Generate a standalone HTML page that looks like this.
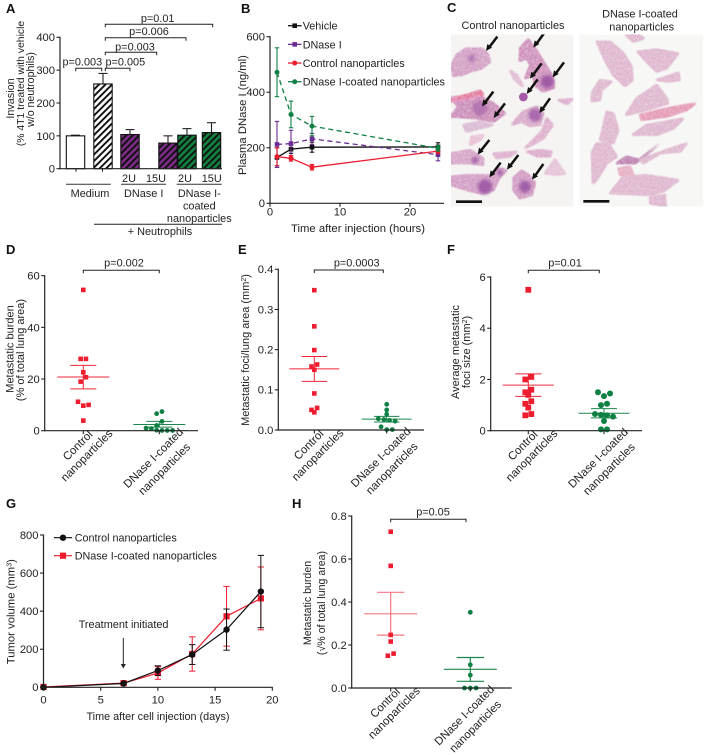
<!DOCTYPE html>
<html lang="en">
<head>
<meta charset="utf-8">
<title>DNase I-coated nanoparticles figure</title>
<style>
html,body{margin:0;padding:0;background:#fff;width:706px;height:755px;overflow:hidden}
svg{display:block;font-family:"Liberation Sans",Arial,sans-serif;fill:#222;filter:blur(.3px)}
text{font-size:10.9px}
.letter{font-size:13px;font-weight:bold;fill:#111}
.ttl{font-size:11px}
.ttl-l{font-size:11.3px}
</style>
</head>
<body>
<svg id="figure" xmlns="http://www.w3.org/2000/svg" width="706" height="755" viewBox="0 0 706 755">
<defs>
<pattern id="hatch-white" patternUnits="userSpaceOnUse" width="4.6" height="4.6" patternTransform="rotate(45)"><rect width="4.6" height="4.6" fill="#fff"/><rect width="1.9" height="4.6" fill="#111"/></pattern>
<pattern id="hatch-purple" patternUnits="userSpaceOnUse" width="4.6" height="4.6" patternTransform="rotate(45)"><rect width="4.6" height="4.6" fill="#7c2a86"/><rect width="1.9" height="4.6" fill="#111"/></pattern>
<pattern id="hatch-green" patternUnits="userSpaceOnUse" width="4.6" height="4.6" patternTransform="rotate(45)"><rect width="4.6" height="4.6" fill="#12803f"/><rect width="1.9" height="4.6" fill="#111"/></pattern>
<filter id="tissue" x="-5%" y="-5%" width="110%" height="110%">
<feMorphology in="SourceGraphic" operator="dilate" radius="3" result="grown"/>
<feTurbulence type="fractalNoise" baseFrequency="0.22" numOctaves="2" seed="4" result="n"/>
<feColorMatrix in="n" type="matrix" values="0 0 0 0 1  0 0 0 0 .95  0 0 0 0 .98  1.3 0 0 0 -.5" result="w"/>
<feComposite in="w" in2="grown" operator="in" result="specks"/>
<feMerge result="m"><feMergeNode in="grown"/><feMergeNode in="specks"/></feMerge>
<feGaussianBlur in="m" stdDeviation="1.2"/>
</filter>
<filter id="soft" x="-30%" y="-30%" width="160%" height="160%"><feGaussianBlur stdDeviation="5"/></filter>
<clipPath id="clip-left"><rect x="-27" y="103" width="367" height="517"/></clipPath>
<clipPath id="clip-right"><rect x="358" y="103" width="372" height="517"/></clipPath>
</defs>

<rect width="706" height="755" fill="#fff"/>

<text class="letter" x="6" y="13">A</text>
<text class="letter" x="241" y="13">B</text>
<text class="letter" x="447" y="12">C</text>
<text class="letter" x="6" y="254">D</text>
<text class="letter" x="238" y="254">E</text>
<text class="letter" x="447" y="254">F</text>
<text class="letter" x="6" y="508">G</text>
<text class="letter" x="292" y="508">H</text>

<!-- Panel A static text -->
<g>
<text style="font-size:10.8px" transform="translate(14,98.5) rotate(-90)" text-anchor="middle">Invasion</text>
<text style="font-size:10.4px" transform="translate(24,83.5) rotate(-90)" text-anchor="middle">(% 4T1 treated with vehicle</text>
<text style="font-size:10.6px" transform="translate(34,89.5) rotate(-90)" text-anchor="middle">w/o neutrophils)</text>
<text x="82.3" y="65.7" text-anchor="middle">p=0.003</text>
<text x="125.3" y="65.7" text-anchor="middle">p=0.005</text>
<text x="135" y="50.7" text-anchor="middle">p=0.003</text>
<text x="149" y="35" text-anchor="middle">p=0.006</text>
<text x="157.7" y="22" text-anchor="middle">p=0.01</text>
<text x="129" y="182" text-anchor="middle">2U</text>
<text x="156" y="182" text-anchor="middle">15U</text>
<text x="185" y="182" text-anchor="middle">2U</text>
<text x="211.7" y="182" text-anchor="middle">15U</text>
<text x="90" y="197" text-anchor="middle">Medium</text>
<text x="143.7" y="197" text-anchor="middle">DNase I</text>
<text x="199.3" y="197" text-anchor="middle">DNase I-</text>
<text x="199.3" y="209.5" text-anchor="middle">coated</text>
<text x="199.3" y="222" text-anchor="middle">nanoparticles</text>
<text x="160" y="235" text-anchor="middle">+ Neutrophils</text>
</g>

<!-- Panel B static text -->
<g>
<text class="ttl-l" transform="translate(246,115) rotate(-90)" text-anchor="middle">Plasma DNase I (ng/ml)</text>
<text class="ttl-l" x="358" y="232" text-anchor="middle">Time after injection (hours)</text>
</g>

<!-- Panel C micrographs -->
<text x="513" y="29" text-anchor="middle">Control nanoparticles</text>
<text x="640" y="17.3" text-anchor="middle">DNase I-coated</text>
<text x="641.7" y="30.7" text-anchor="middle">nanoparticles</text>
<g transform="translate(460,0) scale(0.33333)">
  <g clip-path="url(#clip-left)">
    <rect x="-27" y="103" width="367" height="517" fill="#f5f4f2"/>
    <g filter="url(#tissue)" fill="#cf95c0">
      <polygon points="-10,165 20,145 65,145 85,165 90,185 65,205 30,215 5,225 -20,228 -27,200"/>
      <polygon points="180,145 205,118 228,150 250,185 278,230 283,262 250,275 225,255 218,225 195,235 212,195 200,175 178,183" fill="#cb83b5"/>
      <polygon points="150,212 170,225 190,260 165,240" fill="#dcb6cf"/>
      <polygon points="-27,292 50,285 100,310 135,340 100,365 50,355 -27,350 -5,320" fill="#c77fb3"/>
      <polygon points="-27,295 20,285 60,272 70,285 20,298 -27,305" fill="#e0608e"/>
      <polygon points="155,375 190,335 230,320 250,340 240,375 210,378 185,365" fill="#d6a3c6"/>
      <polygon points="260,355 278,375 250,415 195,445 245,395" fill="#dba9c8"/>
      <polygon points="10,375 60,365 100,375 60,385 20,395" fill="#d7b4d0"/>
      <polygon points="35,410 70,405 60,420 30,435" fill="#e6b9d0"/>
      <polygon points="-27,460 30,450 70,475 70,495 30,490 -27,490" fill="#d39bc4"/>
      <polygon points="100,460 170,455 150,470 110,475" fill="#dcaacb"/>
      <polygon points="200,455 245,450 275,455 270,470 235,470" fill="#d8a3c6"/>
      <polygon points="255,520 285,478 315,522 285,525" fill="#e2bdd4"/>
      <polygon points="295,300 338,297 320,312" fill="#d7a3c8"/>
      <polygon points="-27,530 20,525 60,525 100,525 120,505 140,510 120,530 100,570 70,582 20,570 -27,555" fill="#cf92c0"/>
      <polygon points="160,535 185,512 205,525 225,550 215,585 180,595 160,570" fill="#cd8fbd"/>
    </g>
    <g filter="url(#soft)" fill="#8a3f98" opacity=".7">
      <circle cx="262" cy="245" r="20"/><circle cx="225" cy="345" r="20" opacity=".9"/>
      <circle cx="75" cy="560" r="22"/><circle cx="195" cy="560" r="18"/><circle cx="45" cy="480" r="10"/>
      <circle cx="35" cy="175" r="12" opacity=".6"/><circle cx="60" cy="325" r="22" opacity=".6"/><circle cx="120" cy="518" r="9"/>
    </g>
    <circle cx="190" cy="291" r="13" fill="#a45aa8"/>
    <g stroke="#111" stroke-width="7.5" fill="none">
      <path d="M112,110L86,144"/><path d="M252,100L228,133"/><path d="M245,190L218,226"/><path d="M312,187L286,222"/><path d="M233,238L208,272"/><path d="M100,275L74,309"/><path d="M135,310L109,344"/><path d="M270,295L246,329"/><path d="M88,420L61,454"/><path d="M122,488L96,522"/><path d="M175,465L149,499"/><path d="M250,492L224,529"/>
    </g>
    <g fill="#111">
      <polygon points="78,153 82,132 96,143"/><polygon points="220,143 224,121 238,132"/><polygon points="210,236 214,215 228,226"/><polygon points="278,232 282,211 296,222"/><polygon points="200,282 204,261 218,272"/><polygon points="66,319 70,298 84,309"/><polygon points="101,354 105,333 119,344"/><polygon points="238,339 242,318 256,329"/><polygon points="53,464 57,443 71,454"/><polygon points="88,532 92,511 106,522"/><polygon points="141,509 145,488 159,499"/><polygon points="216,539 220,518 234,529"/>
    </g>
    <rect x="-12" y="601" width="78" height="8" fill="#111"/>
  </g>
  <g clip-path="url(#clip-right)">
    <rect x="358" y="103" width="372" height="517" fill="#f7f7f6"/>
    <g filter="url(#tissue)" fill="#dcb0ca">
      <polygon points="410,125 450,125 490,160 515,200 518,240 495,258 460,225 435,180"/>
      <polygon points="498,105 528,102 552,115 520,125"/>
      <polygon points="533,155 590,148 655,160 620,205 590,215 560,185"/>
      <polygon points="395,280 420,240 455,245 425,270 420,300 395,305"/>
      <polygon points="590,240 655,218 660,240 625,245"/>
      <polygon points="498,345 530,295 590,255 620,295 625,310 560,330"/>
      <polygon points="540,345 620,325 705,310 680,330 620,350 545,360" fill="#e28fae"/>
      <polygon points="518,405 560,375 670,355 640,385 590,405"/>
      <polygon points="440,335 460,340 475,390 460,430 420,420"/>
      <polygon points="395,460 410,430 445,430 470,470 440,490 410,540 398,550"/>
      <polygon points="470,490 500,470 540,480 600,430 550,470 525,490" fill="#b86fa8"/>
      <polygon points="540,480 620,450 680,430 660,455 600,460 550,490"/>
      <polygon points="450,580 490,530 560,525 655,540 610,575 560,585"/>
      <polygon points="570,590 615,585 618,620 570,610"/>
      <polygon points="475,505 510,500 520,525 480,525" fill="#e3a6bd"/>
    </g>
    <rect x="370" y="600" width="78" height="8" fill="#111"/>
  </g>
</g>

<!-- Panels D-H static text -->
<g>
<text class="ttl" transform="translate(13.5,349) rotate(-90)" text-anchor="middle">Metastatic burden</text>
<text class="ttl" transform="translate(24,350) rotate(-90)" text-anchor="middle">(% of total lung area)</text>
<text x="124" y="266.7" text-anchor="middle">p=0.002</text>
<text class="ttl" transform="translate(249,350) rotate(-90)" text-anchor="middle">Metastatic foci/lung area (mm<tspan dy="-3" style="font-size:7px">2</tspan><tspan dy="3">)</tspan></text>
<text x="356.7" y="266.7" text-anchor="middle">p=0.0003</text>
<text class="ttl" transform="translate(459,352) rotate(-90)" text-anchor="middle">Average metastatic</text>
<text class="ttl" transform="translate(470,352) rotate(-90)" text-anchor="middle">foci size (mm<tspan dy="-3" style="font-size:7px">2</tspan><tspan dy="3">)</tspan></text>
<text x="565" y="266.7" text-anchor="middle">p=0.01</text>
<text class="ttl-l" transform="translate(14.5,611.7) rotate(-90)" text-anchor="middle">Tumor volume (mm<tspan dy="-3" style="font-size:7px">3</tspan><tspan dy="3">)</tspan></text>
<text style="font-size:10.8px" x="158" y="720" text-anchor="middle">Time after cell injection (days)</text>
<text x="78.7" y="628">Treatment initiated</text>
<text style="font-size:10.6px" transform="translate(311,603) rotate(-90)" text-anchor="middle">Metastatic burden</text>
<text style="font-size:10.6px" transform="translate(325,603) rotate(-90)" text-anchor="middle">(√% of total lung area)</text>
<text x="433" y="515.7" text-anchor="middle">p=0.05</text>
</g>

<g id="plots"></g>
</svg>

<script>
/* ---------- Panel A data ---------- */
const barTicks = [0, 100, 200, 300, 400];
const barValues = [100, 258, 104, 78, 102, 110];
const barErrors = [2, 32, 15, 22, 20, 30];
/* ---------- Panel B data ---------- */
const pkHours = [1, 3, 6, 24];
const pkVehicle = [165, 195, 202, 203];
const pkVehicleErr = [35, 15, 18, 15];
const pkDnase = [212, 215, 232, 175];
const pkDnaseErr = [83, 48, 20, 22];
const pkControl = [168, 162, 130, 188];
const pkControlErr = [32, 10, 10, 8];
const pkCoated = [472, 320, 278, 198];
const pkCoatedErr = [88, 48, 35, 10];
const pkYTicks = [0, 200, 400, 600];
const pkXTicks = [0, 10, 20];
/* ---------- Panel D data ---------- */
const dControl = [54.5, 27.8, 27.8, 22.6, 20.7, 19, 11.2, 10, 9.7, 3.9];
const dCoated = [7.4, 6.6, 3.6, 2, 1, 0.8, 0.2, 0.1, 0.1, 0.1];
const dStats = [[20.8, 25.3, 16.2], [2.4, 3.6, 1.4]];
const dTicks = [0, 20, 40, 60];
/* ---------- Panel E data ---------- */
const eControl = [0.348, 0.258, 0.199, 0.163, 0.158, 0.15, 0.091, 0.055, 0.05, 0.044];
const eCoated = [0.064, 0.05, 0.039, 0.028, 0.026, 0.024, 0.022, 0.008, 0.001, 0.001];
const eStats = [[0.152, 0.183, 0.121], [0.027, 0.034, 0.02]];
const eTicks = ["0.0", "0.1", "0.2", "0.3", "0.4"];
/* ---------- Panel F data ---------- */
const fControl = [5.5, 2.1, 2.0, 1.6, 1.5, 1.4, 1.15, 1.05, 0.9, 0.65, 0.6];
const fCoated = [1.5, 1.45, 1.35, 1.05, 1.0, 0.65, 0.62, 0.6, 0.55, 0.38, 0.05, 0.05];
const fStats = [[1.78, 2.22, 1.34], [0.68, 0.86, 0.5]];
const fTicks = [0, 2, 4, 6];
/* ---------- Panel G data ---------- */
const tvDays = [0, 7, 10, 13, 16, 19];
const tvControl = [0, 20, 88, 172, 303, 503];
const tvControlErr = [0, 5, 25, 52, 108, 190];
const tvCoated = [2, 22, 75, 175, 373, 467];
const tvCoatedErr = [0, 8, 33, 90, 157, 165];
const tvYTicks = [0, 200, 400, 600, 800];
const tvXTicks = [0, 5, 10, 15, 20];
/* ---------- Panel H data ---------- */
const hControl = [0.727, 0.568, 0.247, 0.216, 0.16, 0.15];
const hCoated = [0.352, 0.108, 0.06, 0, 0, 0];
const hStats = [[0.345, 0.445, 0.246], [0.087, 0.142, 0.031]];
const hTicks = ["0.0", "0.2", "0.4", "0.6", "0.8"];

const RED = "#ed1c2e", GREEN = "#0f8043", PURPLE = "#6a2c91", INK = "#222";
const NS = "http://www.w3.org/2000/svg";
const root = document.getElementById("plots");

function mk(tag, attrs, name, parent) {
  const el = document.createElementNS(NS, tag);
  for (const k in attrs) el.setAttribute(k, attrs[k]);
  
  
  (parent || root).appendChild(el);
  return el;
}
function ln(x1, y1, x2, y2, stroke, w, name, parent, dash) {
  const a = { x1, y1, x2, y2, stroke, "stroke-width": w };
  if (dash) a["stroke-dasharray"] = dash;
  return mk("line", a, name, parent);
}
function txt(x, y, s, anchor, name, parent, extra) {
  const el = mk("text", Object.assign({ x, y, "text-anchor": anchor }, extra || {}), name, parent);
  el.textContent = s;
  return el;
}
function linear(d0, d1, r0, r1) { return v => r0 + (v - d0) * (r1 - r0) / (d1 - d0); }

function yAxis(g, x, yScale, ticks, name) {
  const vals = ticks.map(Number);
  ln(x, yScale(Math.min(...vals)) + 0.6, x, yScale(Math.max(...vals)) - 0.6, INK, 1.2, name + "-line", g);
  ticks.forEach(t => {
    const y = yScale(Number(t));
    ln(x - 3.5, y, x, y, INK, 1.1, name + "-tick", g);
    txt(x - 5, y + 3.9, String(t), "end", name + "-tick-label", g, { style: "font-size:11.2px" });
  });
}
function square(g, x, y, s, fill, name) { return mk("rect", { x: x - s / 2, y: y - s / 2, width: s, height: s, fill }, name, g); }
function errBar(g, x, yHi, yLo, cap, color, w, name) {
  ln(x, yHi, x, yLo, color, w, name + "-stem", g);
  ln(x - cap, yHi, x + cap, yHi, color, w, name + "-cap-high", g);
  ln(x - cap, yLo, x + cap, yLo, color, w, name + "-cap-low", g);
}
function bracket(g, x1, x2, y, name) {
  mk("path", { d: `M${x1},${y + 3}V${y}H${x2}V${y + 3}`, fill: "none", stroke: INK, "stroke-width": 1 }, name, g);
}

/* ===== Panel A ===== */
(function () {
  const g = mk("g", {}, "bar-chart-invasion");
  const y = linear(0, 400, 168.7, 37.3);
  const centers = [75.5, 103, 130, 168, 187, 211.5];
  const fills = ["#fff", "url(#hatch-white)", "url(#hatch-purple)", "url(#hatch-purple)", "url(#hatch-green)", "url(#hatch-green)"];
  barValues.forEach((v, i) => {
    const c = centers[i];
    errBar2(c, y(v), y(v + barErrors[i]));
    mk("rect", { x: c - 9.2, y: y(v), width: 18.4, height: y(0) - y(v), fill: fills[i], stroke: "#111", "stroke-width": 1.1 }, "bar-" + (i + 1), g);
  });
  function errBar2(c, y0, y1) {
    ln(c, y0, c, y1, "#222", 1.1, "bar-error-stem", g);
    ln(c - 4.5, y1, c + 4.5, y1, "#222", 1.1, "bar-error-cap", g);
  }
  yAxis(g, 60, y, barTicks, "y-axis-a");
  ln(59.4, y(0), 222, y(0), INK, 1.2, "x-axis-a", g);
  ln(76, y(0), 76, y(0) + 3, INK, 1, "x-tick-medium", g);
  ln(102.5, y(0), 102.5, y(0) + 3, INK, 1, "x-tick-neutrophils", g);
  bracket(g, 105.3, 212.7, 24.3, "bracket-np-15u");
  bracket(g, 105.3, 186, 37.7, "bracket-np-2u");
  bracket(g, 105.3, 156.7, 52.3, "bracket-15u");
  bracket(g, 105.3, 130, 68.3, "bracket-2u");
  bracket(g, 75.7, 101.7, 68.3, "bracket-medium");
  ln(66, 184.3, 110.7, 184.3, "#333", 1, "group-line-medium", g);
  ln(121, 184.3, 166, 184.3, "#333", 1, "group-line-dnase", g);
  ln(176.7, 184.3, 221.7, 184.3, "#333", 1, "group-line-coated", g);
  ln(94, 224.3, 222, 224.3, "#222", 1, "group-line-neutrophils", g);
})();

/* ===== Panel B ===== */
(function () {
  const g = mk("g", {}, "line-chart-plasma-dnase");
  const x = linear(0, 10, 270, 340), y = linear(0, 600, 203.3, 36.7);
  const series = [
    { n: "vehicle", v: pkVehicle, e: pkVehicleErr, c: "#111", m: "s", d: null },
    { n: "dnase", v: pkDnase, e: pkDnaseErr, c: PURPLE, m: "s", d: "5 3.5" },
    { n: "control", v: pkControl, e: pkControlErr, c: RED, m: "c", d: null },
    { n: "coated", v: pkCoated, e: pkCoatedErr, c: GREEN, m: "c", d: "5 3.5" }
  ];
  series.forEach(s => {
    const a = { points: s.v.map((v, i) => x(pkHours[i]) + "," + y(v)).join(" "), fill: "none", stroke: s.c, "stroke-width": 1.3 };
    if (s.d) a["stroke-dasharray"] = s.d;
    mk("polyline", a, "series-" + s.n, g);
    s.v.forEach((v, i) => {
      const px = x(pkHours[i]), py = y(v);
      errBar(g, px, y(v + s.e[i]), y(v - s.e[i]), 2.2, s.c, 1.1, "error-" + s.n);
      if (s.m === "s") square(g, px, py, 4.6, s.c, "point-" + s.n);
      else mk("circle", { cx: px, cy: py, r: 2.5, fill: s.c }, "point-" + s.n, g);
    });
  });
  yAxis(g, 270, y, pkYTicks, "y-axis-b");
  ln(269.4, y(0), 444, y(0), INK, 1.2, "x-axis-b", g);
  pkXTicks.forEach(t => {
    ln(x(t), y(0), x(t), y(0) + 3.5, INK, 1.1, "x-tick-b", g);
    txt(x(t), 215.5, String(t), "middle", "x-tick-label-b", g, { style: "font-size:11.2px" });
  });
  const legendNames = ["Vehicle", "DNase I", "Control nanoparticles", "DNase I-coated nanoparticles"];
  legendNames.forEach((lab, i) => {
    const ly = 25.7 + i * 18.67, s = series[i];
    ln(288, ly, 301.5, ly, s.c, 1.3, "legend-line-" + s.n, g);
    if (s.m === "s") square(g, 294.7, ly, 4.6, s.c, "legend-marker-" + s.n);
    else mk("circle", { cx: 294.7, cy: ly, r: 2.5, fill: s.c }, "legend-marker-" + s.n, g);
    txt(302.7, ly + 4, lab, "start", "legend-entry-" + s.n, g, { style: "font-size:10.8px" });
  });
})();

/* ===== Scatter helpers (D, E, F, H) ===== */
function swarm(values, y, step, gap) {
  const sorted = values.slice().sort((a, b) => b - a), out = [];
  let i = 0;
  while (i < sorted.length) {
    let j = i;
    while (j + 1 < sorted.length && y(sorted[j + 1]) - y(sorted[i]) < gap) j++;
    const n = j - i + 1;
    const slots = n === 2 ? [0.5, -0.5] : n === 3 ? [-1, 1, 0] : null;
    for (let k = i; k <= j; k++) {
      const slot = slots ? slots[k - i] : (k - i - (n - 1) / 2);
      out.push({ v: sorted[k], dx: slot * step });
    }
    i = j + 1;
  }
  return out;
}
function scatterPanel(cfg) {
  const g = mk("g", {}, cfg.name);
  const y = linear(cfg.d0, cfg.d1, cfg.y0, cfg.y1);
  [cfg.a, cfg.b].forEach((vals, idx) => {
    const cx = idx === 0 ? cfg.c1 : cfg.c2, col = idx === 0 ? RED : GREEN, st = cfg.stats[idx];
    swarm(vals, y, cfg.step, cfg.gap).forEach(p => {
      if (idx === 0) square(g, cx + p.dx, y(p.v), cfg.size, col, "point-control");
      else mk("circle", { cx: cx + p.dx, cy: y(p.v), r: cfg.size / 2 + 0.1, fill: col }, "point-coated", g);
    });
    const op = cfg.fade && idx === 0 ? 0.6 : 0.95;
    const sg = mk("g", { opacity: op }, "summary-" + (idx === 0 ? "control" : "coated"), g);
    ln(cx - cfg.meanW, y(st[0]), cx + cfg.meanW, y(st[0]), col, cfg.lw, "mean-line", sg);
    errBar(sg, cx, y(st[1]), y(st[2]), cfg.capW, col, cfg.lw, "sem-bar");
  });
  yAxis(g, cfg.ax, y, cfg.ticks, cfg.name + "-y-axis");
  ln(cfg.ax - 0.6, cfg.y0, cfg.xEnd, cfg.y0, INK, 1.2, cfg.name + "-x-axis", g);
  [cfg.c1, cfg.c2].forEach(c => ln(c, cfg.y0, c, cfg.y0 + 3.5, INK, 1.1, cfg.name + "-x-tick", g));
  rotLabel(g, cfg.c1 - 3, cfg.y0 + 17.5, "Control", "category-control-line-1");
  rotLabel(g, cfg.c1 + 6, cfg.y0 + 27.5, "nanoparticles", "category-control-line-2");
  rotLabel(g, cfg.c2 - 3.3, cfg.y0 + 30, "DNase I-coated", "category-coated-line-1");
  rotLabel(g, cfg.c2 + 7.7, cfg.y0 + 41, "nanoparticles", "category-coated-line-2");
  bracket(g, cfg.c1, cfg.bEnd, cfg.bY, cfg.name + "-bracket");
}
function rotLabel(g, x, y, s, name) {
  const t = mk("text", { transform: `translate(${x},${y}) rotate(-45)`, "text-anchor": "middle", style: "font-size:11.4px" }, name, g);
  t.textContent = s;
}

scatterPanel({ name: "scatter-d", a: dControl, b: dCoated, stats: dStats, ticks: dTicks, d0: 0, d1: 60, y0: 430.7, y1: 275.7, ax: 44.7, xEnd: 198, c1: 83.3, c2: 159.3, bEnd: 159.3, bY: 270.3, size: 4.6, step: 5.3, gap: 4.6, meanW: 26, capW: 13, lw: 1 });
scatterPanel({ name: "scatter-e", a: eControl, b: eCoated, stats: eStats, ticks: eTicks, d0: 0, d1: 0.4, y0: 430, y1: 269.3, ax: 278.3, xEnd: 424, c1: 314.3, c2: 386.7, bEnd: 383.3, bY: 270, size: 4.6, step: 5.6, gap: 4.2, meanW: 25, capW: 12.7, lw: 1 });
scatterPanel({ name: "scatter-f", a: fControl, b: fCoated, stats: fStats, ticks: fTicks, d0: 0, d1: 6, y0: 430.7, y1: 277, ax: 490.7, xEnd: 642, c1: 528.3, c2: 604, bEnd: 599.3, bY: 270.3, size: 5.8, step: 6, gap: 4.4, meanW: 25.5, capW: 13, lw: 1 });
scatterPanel({ name: "scatter-h", a: hControl, b: hCoated, stats: hStats, ticks: hTicks, d0: 0, d1: 0.8, y0: 688, y1: 516, ax: 351.7, xEnd: 511.7, c1: 390.7, c2: 470.3, bEnd: 466, bY: 519.3, size: 4.6, step: 5.8, gap: 4, meanW: 26.5, capW: 13.7, lw: 1.2, fade: true });

/* ===== Panel G ===== */
(function () {
  const g = mk("g", {}, "line-chart-tumor-volume");
  const x = linear(0, 20, 43.5, 272.3), y = linear(0, 800, 687.3, 535);
  const series = [
    { n: "coated", v: tvCoated, e: tvCoatedErr, c: RED, m: "s" },
    { n: "control", v: tvControl, e: tvControlErr, c: "#111", m: "c" }
  ];
  series.forEach(s => {
    s.v.forEach((v, i) => errBar(g, x(tvDays[i]), y(v + s.e[i]), y(Math.max(0, v - s.e[i])), 3.2, s.c, 1, "error-" + s.n));
    mk("polyline", { points: s.v.map((v, i) => x(tvDays[i]) + "," + y(v)).join(" "), fill: "none", stroke: s.c, "stroke-width": 1.2 }, "series-" + s.n, g);
    s.v.forEach((v, i) => {
      if (s.m === "s") square(g, x(tvDays[i]), y(v), 6.2, s.c, "point-" + s.n);
      else mk("circle", { cx: x(tvDays[i]), cy: y(v), r: 3.2, fill: s.c }, "point-" + s.n, g);
    });
  });
  yAxis(g, 43.5, y, tvYTicks, "y-axis-g");
  ln(42.9, y(0), 272.8, y(0), INK, 1.2, "x-axis-g", g);
  tvXTicks.forEach(t => {
    ln(x(t), y(0), x(t), y(0) + 3.5, INK, 1.1, "x-tick-g", g);
    txt(x(t), 703.5, String(t), "middle", "x-tick-label-g", g, { style: "font-size:11.2px" });
  });
  ln(54, 537.7, 72, 537.7, "#111", 1.2, "legend-line-control", g);
  mk("circle", { cx: 63, cy: 537.7, r: 3.2, fill: "#111" }, "legend-marker-control", g);
  txt(74.7, 541.5, "Control nanoparticles", "start", "legend-entry-control", g, { style: "font-size:10.8px" });
  ln(54, 555.7, 72, 555.7, RED, 1.2, "legend-line-coated", g);
  square(g, 63, 555.7, 6.2, RED, "legend-marker-coated");
  txt(74.7, 559.5, "DNase I-coated nanoparticles", "start", "legend-entry-coated", g, { style: "font-size:10.8px" });
  ln(123.3, 638, 123.3, 665, "#222", 1, "treatment-arrow-shaft", g);
  mk("polygon", { points: "120.8,664 125.8,664 123.3,668.5", fill: "#222" }, "treatment-arrow-head", g);
})();
</script>
</body>
</html>
